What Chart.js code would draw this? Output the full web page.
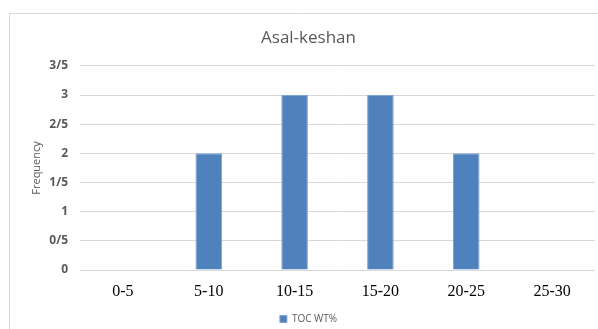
<!DOCTYPE html>
<html>
<head>
<meta charset="utf-8">
<script src="https://cdn.jsdelivr.net/npm/chart.js@4"></script>
<style>
  html, body { margin: 0; padding: 0; background: #fff; }
  #wrap { width: 598px; height: 329px; }
</style>
</head>
<body>
<div id="wrap"><canvas id="myChart" width="598" height="329"></canvas></div>
<script>
const categories = ["0-5", "5-10", "10-15", "15-20", "20-25", "25-30"];
const frequency = [0, 2, 3, 3, 2, 0];
const seriesName = "TOC WT%";
const chartTitle = "Asal-keshan";
const yTitle = "Frequency";

// light frame like the spreadsheet chart box (left and top edges only visible)
const frame = {
  id: 'frame',
  beforeDraw(chart) {
    const c = chart.ctx;
    c.save();
    c.strokeStyle = '#d9d9d9';
    c.lineWidth = 1;
    c.beginPath();
    c.moveTo(9.5, chart.height);
    c.lineTo(9.5, 13.5);
    c.lineTo(chart.width, 13.5);
    c.stroke();
    c.restore();
  }
};

const ctx = document.getElementById('myChart');
new Chart(ctx, {
  type: 'bar',
  data: {
    labels: categories,
    datasets: [{
      label: seriesName,
      data: frequency,
      backgroundColor: '#4f81bd',
      borderColor: '#7ea3d1',
      borderWidth: 1,
      categoryPercentage: 1,
      barPercentage: 0.31
    }]
  },
  options: {
    responsive: false,
    animation: false,
    layout: { padding: { left: 22, right: 3, top: 13, bottom: -5 } },
    plugins: {
      title: {
        display: true,
        text: chartTitle,
        color: '#595959',
        font: { family: 'Open Sans', size: 17, weight: 'normal' },
        padding: { top: 15, bottom: 17.5 }
      },
      legend: {
        position: 'bottom',
        labels: {
          color: '#595959',
          boxWidth: 7,
          boxHeight: 7,
          padding: 1,
          font: { family: 'Open Sans', size: 10 }
        }
      },
      tooltip: { enabled: false }
    },
    scales: {
      x: {
        grid: { display: false },
        border: { display: false },
        ticks: {
          color: '#000',
          padding: 4,
          font: { family: 'Liberation Serif', size: 16 }
        },
        afterFit(s) { s.height = 43; }
      },
      y: {
        min: 0,
        max: 3.5,
        grid: { color: '#d9d9d9', drawTicks: false },
        border: { display: false },
        ticks: {
          stepSize: 0.5,
          color: '#595959',
          padding: 12,
          font: { family: 'Open Sans', size: 12, weight: 'bold' },
          callback: v => String(v).replace('.', '/')
        },
        title: {
          display: true,
          text: yTitle,
          color: '#595959',
          font: { family: 'Open Sans', size: 11 },
          padding: { top: 8, bottom: 0 }
        },
        afterFit(s) { s.width = 58; }
      }
    }
  },
  plugins: [frame]
});
</script>
</body>
</html>
